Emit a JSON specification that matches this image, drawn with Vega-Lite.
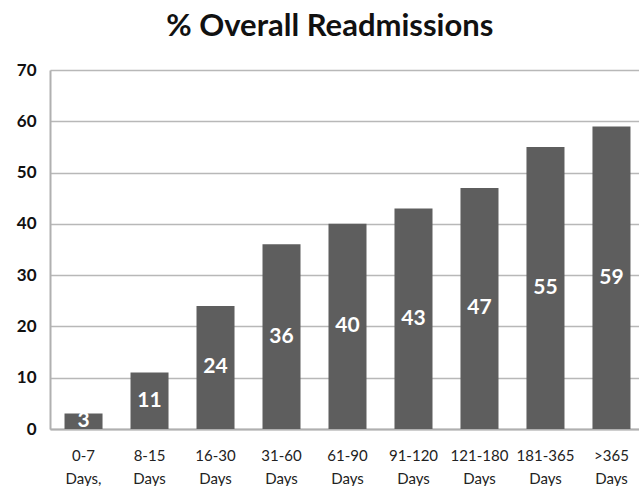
{
  "$schema": "https://vega.github.io/schema/vega-lite/v6.json",
  "width": 595,
  "height": 359,
  "autosize": {"type": "none"},
  "padding": {"left": 50, "top": 70, "right": 0, "bottom": 57},
  "background": "white",
  "title": {
    "text": "% Overall Readmissions",
    "font": "Lato",
    "fontSize": 31,
    "fontWeight": "bold",
    "color": "#111111",
    "anchor": "start",
    "dx": 150,
    "offset": 18
  },
  "data": {
    "values": [
      {"period": "0-7 Days,", "pct": 3},
      {"period": "8-15 Days", "pct": 11},
      {"period": "16-30 Days", "pct": 24},
      {"period": "31-60 Days", "pct": 36},
      {"period": "61-90 Days", "pct": 40},
      {"period": "91-120 Days", "pct": 43},
      {"period": "121-180 Days", "pct": 47},
      {"period": "181-365 Days", "pct": 55},
      {"period": ">365 Days", "pct": 59}
    ]
  },
  "config": {"view": {"stroke": null}},
  "encoding": {
    "x": {
      "field": "period",
      "type": "nominal",
      "sort": null,
      "scale": {"paddingInner": 0.424, "paddingOuter": 0.22},
      "axis": {
        "title": null,
        "labelAngle": 0,
        "labelExpr": "split(datum.label, ' ')",
        "labelFont": "Lato",
        "labelFontSize": 15,
        "labelColor": "#222222",
        "labelLineHeight": 23,
        "labelPadding": 19,
        "ticks": false,
        "domainColor": "#b0b0b0",
        "domainWidth": 2
      }
    },
    "y": {
      "field": "pct",
      "type": "quantitative",
      "scale": {"domain": [0, 70]},
      "axis": {
        "title": null,
        "values": [0, 10, 20, 30, 40, 50, 60, 70],
        "labelFont": "Lato",
        "labelFontSize": 17,
        "labelFontWeight": "bold",
        "labelColor": "#111111",
        "labelPadding": 14,
        "ticks": false,
        "domainColor": "#b0b0b0",
        "domainWidth": 2,
        "gridColor": "#b8b8b8",
        "gridWidth": 1.5
      }
    }
  },
  "layer": [
    {"mark": {"type": "bar", "color": "#5e5e5e"}},
    {
      "mark": {
        "type": "text",
        "color": "white",
        "font": "Lato",
        "fontSize": 21,
        "fontWeight": "bold",
        "baseline": "middle",
        "dy": {"expr": "(height - scale('y', datum.pct)) / 2"}
      },
      "encoding": {
        "text": {"field": "pct", "type": "quantitative"}
      }
    }
  ]
}
